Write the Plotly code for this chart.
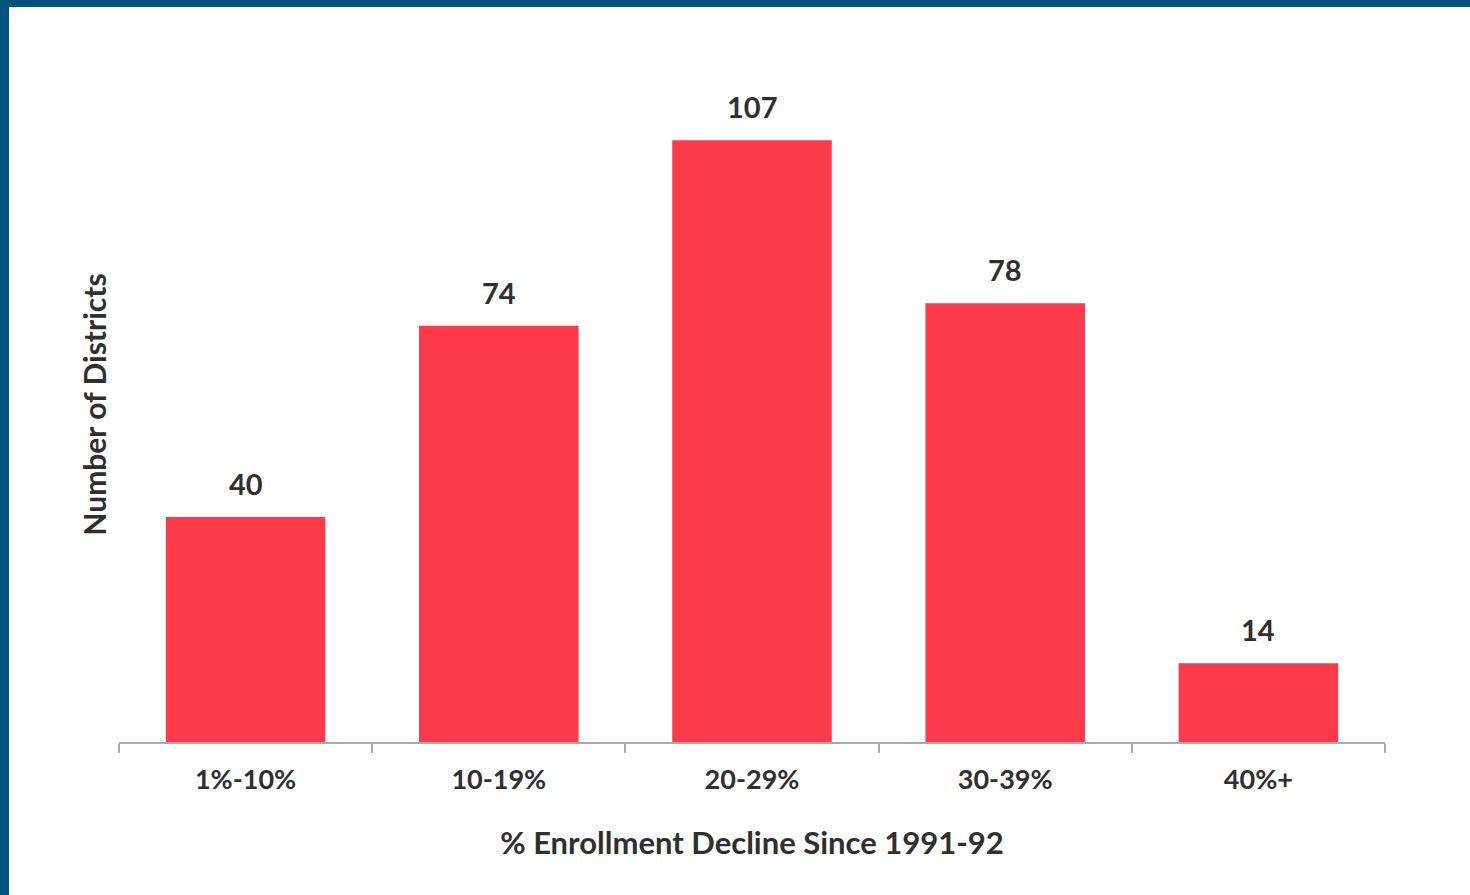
import plotly.graph_objects as go

categories = ["1%-10%", "10-19%", "20-29%", "30-39%", "40%+"]
districts = [40, 74, 107, 78, 14]

W, H = 1470, 895
ML, MR, MT, MB = 119, 85, 67, 153
plot_w = W - ML - MR
plot_h = H - MT - MB

bar_color = "#FC3A4A"
text_color = "#2f2f2f"
axis_color = "#aaaaaa"
frame_color = "#02527E"
font_family = "Lato, 'Open Sans', sans-serif"

fig = go.Figure()
fig.add_trace(go.Bar(
    x=categories,
    y=districts,
    marker=dict(color=bar_color, line=dict(width=0)),
    hoverinfo="x+y",
))

# value labels above each bar
for cat, val in zip(categories, districts):
    fig.add_annotation(
        x=cat, y=val, text=f"<b>{val}</b>", showarrow=False,
        yanchor="bottom", yshift=14,
        font=dict(family=font_family, size=29, color=text_color),
    )

# dark blue frame strips along the top and left edges of the page
fig.add_shape(type="rect", xref="paper", yref="paper",
              x0=(0 - ML) / plot_w, x1=(9 - ML) / plot_w,
              y0=-0.5, y1=1.5,
              fillcolor=frame_color, line=dict(width=0), layer="above")
fig.add_shape(type="rect", xref="paper", yref="paper",
              x0=(0 - ML) / plot_w - 0.1, x1=(W - ML) / plot_w + 0.1,
              y0=(H - MB - 7) / plot_h, y1=(H - MB - 0) / plot_h,
              fillcolor=frame_color, line=dict(width=0), layer="above")

fig.update_layout(
    width=W, height=H,
    margin=dict(l=ML, r=MR, t=MT, b=MB, pad=0),
    paper_bgcolor="white", plot_bgcolor="white",
    bargap=0.37,
    showlegend=False,
    font=dict(family=font_family, color=text_color),
    xaxis=dict(
        type="category",
        showline=True, linecolor=axis_color, linewidth=2,
        ticks="outside", tickson="boundaries", ticklen=9, tickwidth=2, tickcolor=axis_color,
        tickfont=dict(family=font_family, size=27, color=text_color, weight="bold"),
        ticklabelstandoff=13,
        showgrid=False, zeroline=False,
        title=dict(text="<b>% Enrollment Decline Since 1991-92</b>", standoff=38,
                   font=dict(family=font_family, size=31, color=text_color)),
    ),
    yaxis=dict(
        range=[0, 120],
        showline=False, showgrid=False, zeroline=False,
        showticklabels=False, ticks="",
        title=dict(text="<b>Number of Districts</b>", standoff=2,
                   font=dict(family=font_family, size=30, color=text_color)),
    ),
)

fig.write_html("out.html")
